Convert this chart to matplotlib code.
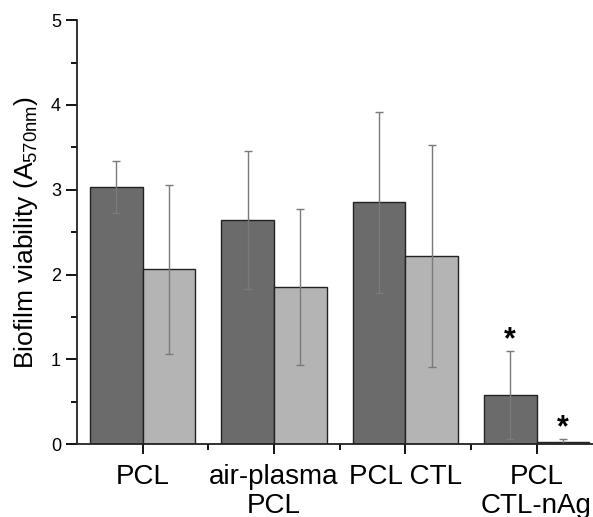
import numpy as np
import matplotlib.pyplot as plt
from matplotlib.ticker import MultipleLocator

plt.rcParams['font.family'] = ['Liberation Sans', 'DejaVu Sans']

# ---------------- data ----------------
groups = ["PCL", "air-plasma\nPCL", "PCL CTL", "PCL\nCTL-nAg"]
dark_vals = [3.03, 2.645, 2.85, 0.58]
dark_err = [0.31, 0.81, 1.07, 0.52]
light_vals = [2.06, 1.85, 2.22, 0.02]
light_err = [1.0, 0.92, 1.31, 0.045]
star_dark = [False, False, False, True]
star_light = [False, False, False, True]

# ---------------- figure ----------------
fig = plt.figure(figsize=(5.93, 5.17), dpi=100)
ax = fig.add_axes([0.130, 0.141, 0.870, 0.820])

x = np.arange(1, len(groups) + 1)
w = 0.4
ekw = dict(ecolor="#7a7a7a", elinewidth=1.0, capsize=3, capthick=1.0)
ax.bar(x - w / 2, dark_vals, w, yerr=dark_err, color="#6b6b6b",
       edgecolor="#222222", linewidth=1.0, error_kw=ekw, zorder=2)
ax.bar(x + w / 2, light_vals, w, yerr=light_err, color="#b4b4b4",
       edgecolor="#222222", linewidth=1.0, error_kw=ekw, zorder=2)

# significance markers just above the error bars
for i in range(len(groups)):
    if star_dark[i]:
        ax.text(x[i] - w / 2, dark_vals[i] + dark_err[i] + 0.12, "*",
                ha="center", va="center", fontsize=22, fontweight="bold")
    if star_light[i]:
        ax.text(x[i] + w / 2, light_vals[i] + light_err[i] + 0.12, "*",
                ha="center", va="center", fontsize=22, fontweight="bold")

ax.set_xlim(0.5, 4.43)
ax.set_ylim(0, 5)
ax.set_xticks(x)
ax.set_xticklabels(groups, fontsize=20, linespacing=1.15)
ax.xaxis.set_minor_locator(plt.FixedLocator(x[:-1] + 0.5))
ax.yaxis.set_major_locator(MultipleLocator(1))
ax.yaxis.set_minor_locator(MultipleLocator(0.5))
ax.tick_params(axis="y", labelsize=13, direction="out", length=8, width=1.3)
ax.tick_params(axis="x", direction="out", length=7, width=1.3, pad=7)
ax.tick_params(which="minor", direction="out", length=4, width=1.3)

ax.set_ylabel("Biofilm viability (A$_{\\mathregular{570nm}}$)", fontsize=19, labelpad=8)

for s in ("top", "right"):
    ax.spines[s].set_visible(False)
for s in ("left", "bottom"):
    ax.spines[s].set_linewidth(1.3)
    ax.spines[s].set_color("#222222")

fig.savefig("out.png", dpi=100)
